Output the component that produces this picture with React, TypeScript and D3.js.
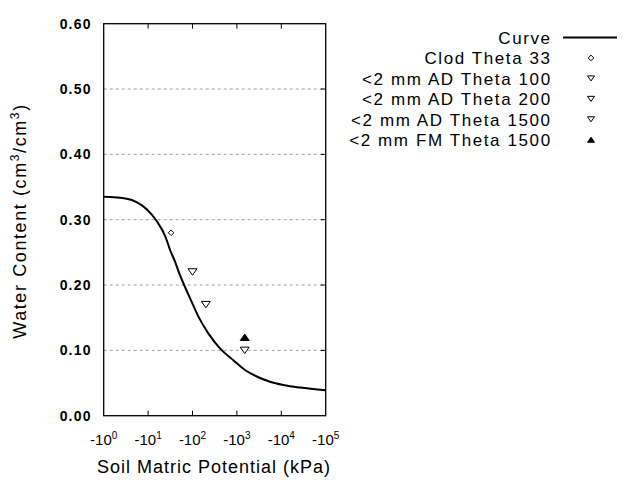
import React from "react";
import * as d3 from "d3";

// Curve: potential magnitude (kPa) and water content
const curveKPa = [1, 3.3, 5.5, 9.3, 15.6, 24.9, 31.1, 40.4, 52.2, 67.8, 87.9, 135, 227, 416, 830, 1520, 2790, 5560, 11100, 26400, 100000];
const curveTheta = [0.335, 0.332, 0.327, 0.316, 0.298, 0.273, 0.254, 0.236, 0.215, 0.197, 0.18, 0.152, 0.126, 0.103, 0.085, 0.07, 0.06, 0.052, 0.047, 0.043, 0.039];

const seriesNames = [
  "Clod Theta 33",
  "<2 mm AD Theta 100",
  "<2 mm AD Theta 200",
  "<2 mm AD Theta 1500",
  "<2 mm FM Theta 1500",
];
const seriesKPa = [33, 100, 200, 1500, 1500];
const seriesTheta = [0.28, 0.22, 0.17, 0.1, 0.12];
const seriesShape = ["diamond", "triDown", "triDown", "triDown", "triUpFilled"];

const xTickExps = [0, 1, 2, 3, 4, 5];
const yTicks = [0, 0.1, 0.2, 0.3, 0.4, 0.5, 0.6];

const FONT = "'Liberation Sans', Arial, Helvetica, sans-serif";

function marker(shape: string, cx: number, cy: number, s: number) {
  if (shape === "diamond") {
    const r = s * 0.4;
    return (
      <path d={`M${cx},${cy - r}L${cx + r},${cy}L${cx},${cy + r}L${cx - r},${cy}Z`} fill="white" stroke="black" strokeWidth={1} />
    );
  }
  const w = s * 0.5;
  const h = s * 0.36;
  if (shape === "triDown") {
    return (
      <path d={`M${cx - w},${cy - h}L${cx + w},${cy - h}L${cx},${cy + h}Z`} fill="white" stroke="black" strokeWidth={1} />
    );
  }
  return <path d={`M${cx - w},${cy + h}L${cx + w},${cy + h}L${cx},${cy - h}Z`} fill="black" stroke="black" strokeWidth={1} />;
}

export default function App() {
  const left = 103.7, right = 325.7, top = 23.7, bottom = 415.7;
  const x = d3.scaleLog().domain([1, 1e5]).range([left, right]);
  const y = d3.scaleLinear().domain([0, 0.6]).range([bottom, top]);
  const line = d3
    .line<number>()
    .x((_, i) => x(curveKPa[i]))
    .y((d) => y(d))
    .curve(d3.curveMonotoneX);

  const legendTextX = 551.7;
  const legendMarkX = 591;
  const rowY = (i: number) => 37.5 + 20.45 * i;

  return (
    <svg width={640} height={480} style={{ position: "absolute", left: 0, top: 0, background: "white" }} fontFamily={FONT}>
      <rect x={0} y={0} width={640} height={480} fill="white" />
      {/* grid */}
      {yTicks.slice(1, -1).map((t) => (
        <g key={t}>
          <line x1={left} x2={right} y1={y(t)} y2={y(t)} stroke="#a0a0a0" strokeDasharray="3,3" strokeWidth={1} />
          <line x1={right - 5} x2={right} y1={y(t)} y2={y(t)} stroke="black" strokeWidth={1} />
        </g>
      ))}
      {/* x ticks top & bottom */}
      {xTickExps.slice(1, -1).map((e) => (
        <g key={e}>
          <line x1={x(10 ** e)} x2={x(10 ** e)} y1={top} y2={top + 5} stroke="black" />
          <line x1={x(10 ** e)} x2={x(10 ** e)} y1={bottom} y2={bottom - 5} stroke="black" />
        </g>
      ))}
      <rect x={left} y={top} width={right - left} height={bottom - top} fill="none" stroke="black" strokeWidth={1.3} />
      {/* y tick labels */}
      {yTicks.map((t) => (
        <text key={t} x={91.7} y={y(t) + 5} textAnchor="end" fontSize={14} fontWeight="bold" letterSpacing={1.2} fill="black">
          {t.toFixed(2)}
        </text>
      ))}
      {/* x tick labels */}
      {xTickExps.map((e) => (
        <text key={e} x={x(10 ** e)} y={445} textAnchor="middle" fontSize={15} fill="black">
          -10
          <tspan fontSize={10} dy={-6}>
            {e}
          </tspan>
        </text>
      ))}
      {/* curve */}
      <path d={line(curveTheta) || ""} fill="none" stroke="black" strokeWidth={2} />
      {/* points */}
      {seriesKPa.map((k, i) => (
        <g key={i}>{marker(seriesShape[i], x(k), y(seriesTheta[i]), i === 0 ? 7 : 9)}</g>
      ))}
      {/* axis titles */}
      <text x={214} y={473} textAnchor="middle" fontSize={18} letterSpacing={1.0} fill="black">
        Soil Matric Potential (kPa)
      </text>
      <text transform="translate(26,221) rotate(-90)" textAnchor="middle" fontSize={18} letterSpacing={1.6} fill="black">
        Water Content (cm<tspan fontSize={12} dy={-7}>3</tspan>
        <tspan dy={7}>/cm</tspan>
        <tspan fontSize={12} dy={-7}>3</tspan>
        <tspan dy={7}>)</tspan>
      </text>
      {/* legend */}
      <text x={legendTextX} y={rowY(0) + 6.5} textAnchor="end" fontSize={17} letterSpacing={1.6} fill="black">
        Curve
      </text>
      <line x1={563} x2={617} y1={rowY(0)} y2={rowY(0)} stroke="black" strokeWidth={2} />
      {seriesNames.map((n, i) => (
        <g key={n}>
          <text x={legendTextX} y={rowY(i + 1) + 6.5} textAnchor="end" fontSize={17} letterSpacing={1.6} fill="black">
            {n}
          </text>
          {marker(seriesShape[i], legendMarkX, rowY(i + 1), 7)}
        </g>
      ))}
    </svg>
  );
}
